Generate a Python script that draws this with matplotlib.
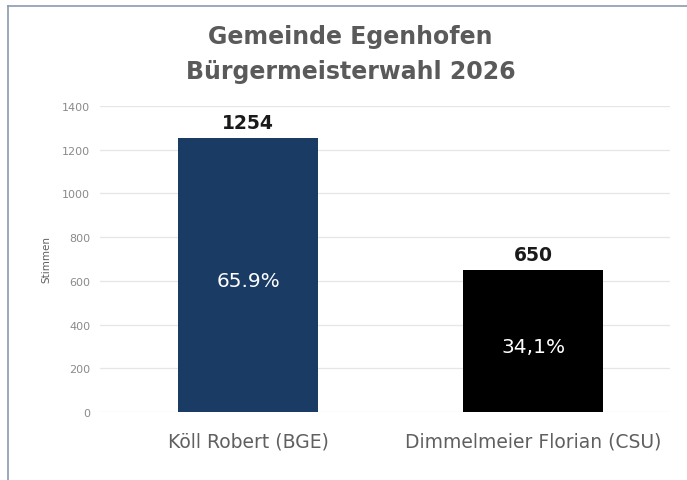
import matplotlib.pyplot as plt

# election results
candidates = ['Köll Robert (BGE)', 'Dimmelmeier Florian (CSU)']
votes = [1254, 650]
shares = ['65.9%', '34,1%']
colors = ['#1a3b63', '#000000']
yticks = [0, 200, 400, 600, 800, 1000, 1200, 1400]

FONT = 'DejaVu Sans'

fig = plt.figure(figsize=(6.87, 4.81), dpi=100)
ax = fig.add_axes([100 / 687, (481 - 413) / 481, 570 / 687, 306 / 481])

x = [0, 1]
bars = ax.bar(x, votes, width=0.49, color=colors, zorder=2)

ax.set_xlim(-0.52, 1.48)
ax.set_ylim(0, 1400)
ax.set_yticks(yticks)
ax.set_yticklabels([str(t) for t in yticks], fontsize=8, color='#8a8a8a',
                   family=FONT)
ax.set_xticks(x)
ax.set_xticklabels(candidates, fontsize=13.5, color='#606060', family=FONT)
ax.tick_params(axis='y', length=0, pad=7)
ax.tick_params(axis='x', length=0, pad=14)
ax.grid(axis='y', color='#e6e6e6', linewidth=0.9, zorder=0)
for s in ax.spines.values():
    s.set_visible(False)
ax.set_ylabel('Stimmen', fontsize=7.5, color='#606060', family=FONT,
              labelpad=8)

# value labels above the bars and shares inside
for xi, v, sh in zip(x, votes, shares):
    ax.annotate(str(v), (xi, v), xytext=(0, 4), textcoords='offset points',
                ha='center', va='bottom', fontsize=13.5, fontweight='bold',
                color='#1a1a1a', family=FONT)
    ax.annotate(sh, (xi, v / 2), xytext=(0, -4), textcoords='offset points',
                ha='center', va='center', fontsize=14.5, color='white',
                family=FONT)

fig.text(0.51, 1 - 37 / 481, 'Gemeinde Egenhofen', ha='center', va='center',
         fontsize=17, fontweight='bold', color='#5a5a5a', family=FONT)
fig.text(0.51, 1 - 72 / 481, 'Bürgermeisterwahl 2026', ha='center',
         va='center', fontsize=17, fontweight='bold', color='#5a5a5a',
         family=FONT)

# screenshot frame on top and left
fig.add_artist(plt.Line2D([8 / 687, 1], [1 - 7 / 481, 1 - 7 / 481],
                          color='#8a9bb0', linewidth=1.2))
fig.add_artist(plt.Line2D([8 / 687, 8 / 687], [0, 1 - 7 / 481],
                          color='#8a9bb0', linewidth=1.2))

fig.savefig('out.png', dpi=100)
